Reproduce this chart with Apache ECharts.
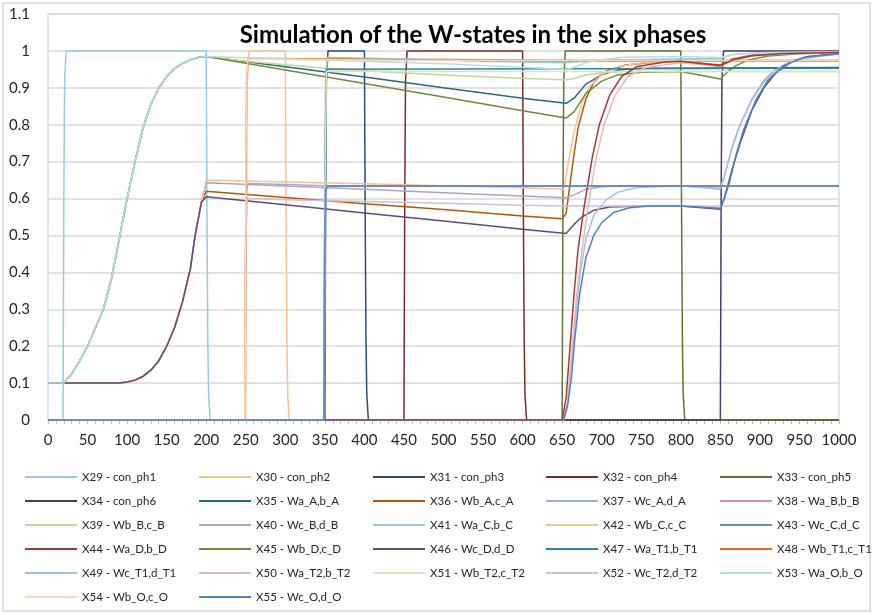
<!DOCTYPE html>
<html>
<head>
<meta charset="utf-8">
<script src="https://cdn.jsdelivr.net/npm/echarts@6/dist/echarts.min.js"></script>
<style>
  html, body { margin: 0; padding: 0; background: #fff; }
  #chart { width: 874px; height: 614px; }
</style>
</head>
<body>
<div id="chart"></div>
<script>
// series names as they appear in the legend
const names = [
  'X29 - con_ph1', 'X30 - con_ph2', 'X31 - con_ph3', 'X32 - con_ph4', 'X33 - con_ph5',
  'X34 - con_ph6', 'X35 - Wa_A,b_A', 'X36 - Wb_A,c_A', 'X37 - Wc_A,d_A', 'X38 - Wa_B,b_B',
  'X39 - Wb_B,c_B', 'X40 - Wc_B,d_B', 'X41 - Wa_C,b_C', 'X42 - Wb_C,c_C', 'X43 - Wc_C,d_C',
  'X44 - Wa_D,b_D', 'X45 - Wb_D,c_D', 'X46 - Wc_D,d_D', 'X47 - Wa_T1,b_T1', 'X48 - Wb_T1,c_T1',
  'X49 - Wc_T1,d_T1', 'X50 - Wa_T2,b_T2', 'X51 - Wb_T2,c_T2', 'X52 - Wc_T2,d_T2', 'X53 - Wa_O,b_O',
  'X54 - Wb_O,c_O', 'X55 - Wc_O,d_O'
];

const colors = [
  '#93CDDD', '#FAC090', '#2C4D75', '#772C2A', '#5F7530',
  '#4D3B62', '#276A7C', '#B65708', '#95B3D7', '#D99694',
  '#C3D69B', '#B3A2C7', '#93CDDD', '#FAC090', '#6A8CBF',
  '#9F3B38', '#71893F', '#604A7B', '#31859C', '#E46C0A',
  '#A7C0DE', '#E6B9B8', '#D7E4BD', '#CCC1DA', '#B7DEE8',
  '#FCD5B5', '#4F81BD'
];

// phase pulses [time, value]
const conPh1 = [[0,0],[19,0],[20,0.6],[21,0.92],[23,1],[200,1],[201,0.55],[202,0.22],[203,0.07],[205,0],[1000,0]];
const conPh2 = [[0,0],[250,0],[251,0.6],[252,0.92],[254,1],[300,1],[301,0.55],[302,0.22],[303,0.07],[305,0],[1000,0]];
const conPh3 = [[0,0],[350,0],[351,0.6],[352,0.92],[354,1],[400,1],[401,0.55],[402,0.22],[403,0.07],[405,0],[1000,0]];
const conPh4 = [[0,0],[450,0],[451,0.6],[452,0.92],[454,1],[600,1],[601,0.55],[602,0.22],[603,0.07],[605,0],[1000,0]];
const conPh5 = [[0,0],[650,0],[651,0.6],[652,0.92],[654,1],[800,1],[801,0.55],[802,0.22],[803,0.07],[805,0],[1000,0]];
const conPh6 = [[0,0],[850,0],[851,0.6],[852,0.92],[854,1],[1000,1]];

// shared learning curves in phase 1
const upperRise = [[0,0.1],[20,0.1],[30,0.125],[40,0.16],[50,0.2],[60,0.25],[70,0.3],[80,0.38],[90,0.49],[100,0.6],
  [110,0.7],[120,0.79],[130,0.855],[140,0.9],[150,0.93],[160,0.952],[170,0.966],[180,0.976],[190,0.982],[200,0.985]];
const lowerRise = [[0,0.1],[90,0.1],[100,0.103],[110,0.108],[120,0.118],[130,0.135],[140,0.16],[150,0.2],
  [160,0.25],[170,0.32],[180,0.41],[186,0.5],[194,0.59]];

const wA_ab = upperRise.concat([[300,0.957],[400,0.929],[500,0.9],[600,0.872],[655,0.858],[665,0.872],[680,0.91],
  [700,0.935],[720,0.948],[750,0.953],[1000,0.955]]);
const wA_bc = lowerRise.concat([[200,0.62],[300,0.603],[400,0.586],[500,0.57],[600,0.553],[650,0.545],[655,0.56],
  [660,0.64],[665,0.72],[670,0.79],[680,0.87],[690,0.915],[705,0.945],[730,0.962],[770,0.97],[800,0.972],[850,0.962],
  [865,0.978],[890,0.988],[930,0.993],[1000,0.996]]);
const wA_cd = [[0,0],[249,0],[250,0.5],[251,0.62],[253,0.641],[300,0.638],[350,0.635],[1000,0.634]];
const wB_ab = [[0,0],[349,0],[350,0.6],[351,0.92],[353,0.98],[450,0.978],[650,0.975],[1000,0.975]];
const wB_bc = upperRise.concat([[250,0.972],[350,0.953],[450,0.94],[550,0.93],[655,0.921],[665,0.925],[680,0.935],
  [700,0.941],[730,0.944],[1000,0.944]]);
const wB_cd = lowerRise.concat([[200,0.643],[300,0.634],[400,0.625],[500,0.616],[600,0.607],[655,0.602],[665,0.61],
  [680,0.625],[700,0.632],[730,0.635],[800,0.635],[850,0.625],[855,0.66],[865,0.74],[875,0.8],[890,0.87],[905,0.92],
  [920,0.95],[940,0.973],[960,0.985],[1000,0.994]]);
const wC_ab = [[0,0],[349,0],[350,0.6],[351,0.92],[353,0.982],[450,0.978],[550,0.972],[650,0.968],[700,0.975],
  [850,0.98],[865,0.99],[900,0.995],[1000,0.997]];
const wC_bc = lowerRise.concat([[200,0.65],[300,0.645],[400,0.64],[500,0.635],[600,0.629],[652,0.625],[658,0.7],
  [665,0.78],[675,0.86],[685,0.905],[700,0.935],[720,0.957],[750,0.967],[800,0.972],[1000,0.973]]);
const wC_cd = [[0,0],[349,0],[350,0.5],[351,0.62],[353,0.634],[1000,0.634]];
const wD_ab = [[0,0],[650,0],[655,0.06],[660,0.2],[665,0.34],[670,0.46],[678,0.58],[688,0.71],[697,0.8],[710,0.88],
  [725,0.93],[745,0.958],[780,0.97],[800,0.972],[850,0.96],[865,0.975],[890,0.987],[930,0.993],[1000,0.996]];
const wD_bc = upperRise.concat([[300,0.948],[400,0.912],[500,0.875],[600,0.838],[655,0.818],[665,0.835],[680,0.885],
  [700,0.918],[720,0.935],[750,0.942],[800,0.944],[850,0.924],[860,0.945],[870,0.96],[885,0.975],[910,0.986],
  [950,0.992],[1000,0.995]]);
const wD_cd = lowerRise.concat([[200,0.605],[300,0.583],[400,0.561],[500,0.539],[600,0.517],[655,0.505],[665,0.53],
  [675,0.55],[690,0.568],[710,0.577],[750,0.58],[800,0.58],[850,0.571],[855,0.6],[865,0.68],[875,0.75],[890,0.84],
  [905,0.9],[920,0.94],[940,0.97],[960,0.984],[1000,0.993]]);
const wT1_ab = [[0,0],[349,0],[350,0.6],[352,0.95],[354,0.955],[1000,0.953]];
const wT1_bc = [[0,0],[249,0],[250,0.6],[251,0.92],[253,0.98],[350,0.978],[450,0.976],[550,0.974],[650,0.972],[1000,0.972]];
const wT1_cd = [[0,0],[652,0],[657,0.05],[662,0.16],[667,0.28],[673,0.4],[680,0.49],[690,0.555],[705,0.595],[720,0.617],
  [745,0.63],[800,0.634],[850,0.628],[855,0.66],[865,0.74],[875,0.8],[890,0.868],[905,0.915],[925,0.955],[950,0.978],[1000,0.992]];
const wT2_ab = [[0,0],[652,0],[657,0.05],[662,0.18],[668,0.33],[675,0.46],[683,0.58],[693,0.71],[703,0.8],[717,0.88],
  [733,0.93],[755,0.955],[800,0.968],[850,0.958],[865,0.973],[890,0.986],[930,0.992],[1000,0.995]];
const wT2_bc = [[0,0],[349,0],[350,0.6],[352,0.945],[354,0.95],[650,0.944],[1000,0.944]];
const wT2_cd = [[0,0],[249,0],[250,0.5],[252,0.6],[300,0.597],[400,0.592],[500,0.587],[600,0.582],[650,0.58],[1000,0.58]];
const wO_ab = upperRise.concat([[300,0.978],[400,0.972],[500,0.965],[600,0.956],[655,0.95],[665,0.955],[680,0.968],
  [700,0.977],[730,0.983],[800,0.985],[850,0.982],[865,0.99],[900,0.995],[1000,0.997]]);
const wO_bc = [[0,0],[249,0],[250,0.6],[251,0.92],[253,0.978],[450,0.975],[650,0.973],[1000,0.973]];
const wO_cd = [[0,0],[652,0],[657,0.04],[662,0.12],[666,0.22],[672,0.34],[680,0.44],[690,0.5],[700,0.535],[715,0.562],
  [735,0.575],[760,0.58],[800,0.58],[850,0.574],[855,0.6],[861,0.64],[870,0.72],[880,0.79],[895,0.867],[910,0.92],
  [930,0.96],[955,0.982],[1000,0.992]];

const seriesData = [conPh1, conPh2, conPh3, conPh4, conPh5, conPh6,
  wA_ab, wA_bc, wA_cd, wB_ab, wB_bc, wB_cd, wC_ab, wC_bc, wC_cd, wD_ab, wD_bc, wD_cd,
  wT1_ab, wT1_bc, wT1_cd, wT2_ab, wT2_bc, wT2_cd, wO_ab, wO_bc, wO_cd];

const xTicks = { min: 0, max: 1000, step: 50 };
const yTicks = { min: 0, max: 1.1, step: 0.1 };

const font = 'Lato, "Open Sans", sans-serif';
const myChart = echarts.init(document.getElementById('chart'));

// one legend per column so the five columns line up like in Excel
const legendCols = [20, 194, 368, 541, 715];
const legends = legendCols.map((x, c) => ({
  orient: 'vertical',
  left: x,
  top: 464,
  itemWidth: 52,
  itemHeight: 2,
  itemGap: 8,
  icon: 'rect',
  selectedMode: false,
  data: names.filter((n, i) => i % 5 === c),
  textStyle: { fontFamily: font, fontSize: 11.5, color: '#262626', lineHeight: 16 }
}));

const series = names.map((n, i) => ({
  name: n,
  type: 'line',
  data: seriesData[i],
  showSymbol: false,
  symbol: 'none',
  z: i === 14 ? 5 : (i === 15 ? 4 : 2),
  lineStyle: { color: colors[i], width: i === 14 ? 2 : 1.5 },
  itemStyle: { color: colors[i] }
}));

const options = {
  animation: false,
  backgroundColor: '#fff',
  title: {
    text: 'Simulation of the W-states in the six phases',
    left: 468,
    top: 18,
    textAlign: 'center',
    textStyle: { fontFamily: font, fontSize: 24, fontWeight: 'bold', color: '#000' }
  },
  legend: legends,
  grid: {
    left: 48, right: 35, top: 14, bottom: 194,
    show: true, borderColor: '#D5DDEA', borderWidth: 1.5
  },
  xAxis: {
    type: 'value',
    min: xTicks.min, max: xTicks.max, interval: xTicks.step,
    axisLine: { show: true, lineStyle: { color: '#BFBFBF' } },
    axisTick: { show: true, length: 4, lineStyle: { color: '#BFBFBF' } },
    minorTick: { show: true, splitNumber: 5, length: 4, lineStyle: { color: '#BFBFBF' } },
    splitLine: { show: false },
    axisLabel: { fontFamily: font, fontSize: 15, color: '#262626', margin: 13, formatter: v => String(v) }
  },
  yAxis: {
    type: 'value',
    min: yTicks.min, max: yTicks.max, interval: yTicks.step,
    axisLine: { show: false },
    axisTick: { show: false },
    splitLine: { show: true, lineStyle: { color: '#D9D9D9', width: 1.5 } },
    axisLabel: {
      fontFamily: font, fontSize: 15, color: '#262626', margin: 18,
      formatter: v => String(Number(v.toFixed(1)))
    }
  },
  graphic: [{
    type: 'rect',
    shape: { x: 3, y: 3, width: 867, height: 608 },
    style: { fill: 'none', stroke: '#D9D9D9', lineWidth: 1.5 },
    silent: true
  }],
  series: series
};

myChart.setOption(options);
</script>
</body>
</html>
